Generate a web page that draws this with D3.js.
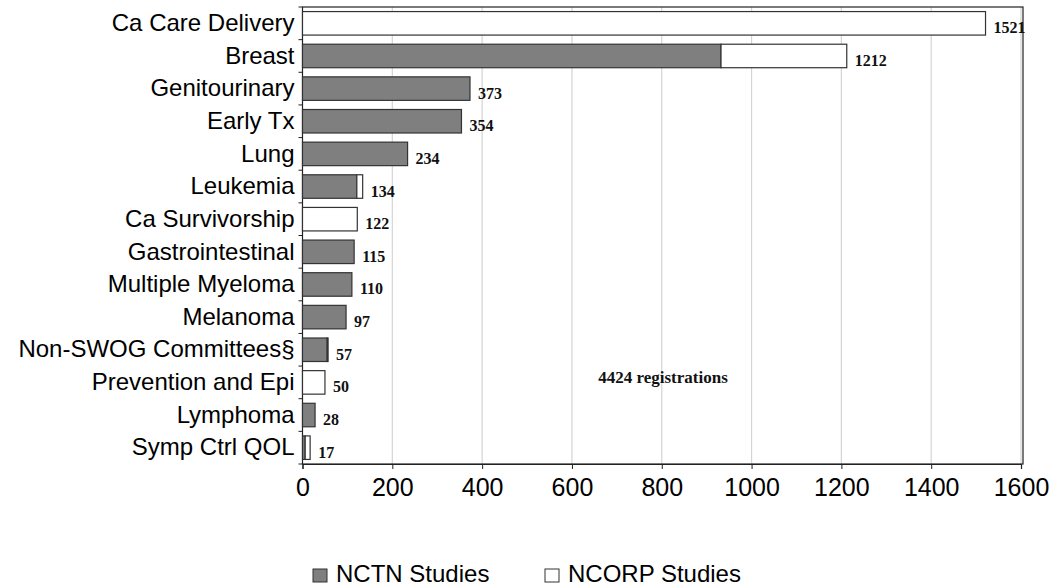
<!DOCTYPE html>
<html><head><meta charset="utf-8">
<script src="https://cdn.jsdelivr.net/npm/d3@7"></script>
<style>body{margin:0;background:#fff}svg{display:block}</style>
</head><body>
<svg id="c" width="1051" height="588"></svg>
<script>
const categories = ["Ca Care Delivery","Breast","Genitourinary","Early Tx","Lung","Leukemia","Ca Survivorship","Gastrointestinal","Multiple Myeloma","Melanoma","Non-SWOG Committees§","Prevention and Epi","Lymphoma","Symp Ctrl QOL"];
const nctn  = [0, 932, 373, 354, 234, 121, 0, 115, 110, 97, 55, 0, 28, 6];
const ncorp = [1521, 280, 0, 0, 0, 13, 122, 0, 0, 0, 2, 50, 0, 11];
const xTicks = [0,200,400,600,800,1000,1200,1400,1600];
const seriesNames = ["NCTN Studies","NCORP Studies"];
const annotation = "4424 registrations";

const svg = d3.select("#c");
const x = d3.scaleLinear().domain([0,1600]).range([302.5,1021]);
const y = d3.scaleBand().domain(categories).range([7,464]).paddingInner(0.28).paddingOuter(0.14);
const sans = "Liberation Sans, Arial, sans-serif";
const serif = "Liberation Serif, Times New Roman, serif";

// gridlines
svg.append("g").selectAll("line").data(xTicks.slice(1)).join("line")
  .attr("x1",d=>x(d)).attr("x2",d=>x(d)).attr("y1",7).attr("y2",464)
  .attr("stroke","#d4d4d4").attr("stroke-width",1.2);

// plot frame
svg.append("rect").attr("x",x(0)).attr("y",7).attr("width",x(1600)-x(0)+2).attr("height",457)
  .attr("fill","none").attr("stroke","#222").attr("stroke-width",1.2);

const rows = categories.map((c,i)=>({c, a:nctn[i], b:ncorp[i]}));
const g = svg.append("g");
g.selectAll("rect.n").data(rows.filter(r=>r.a>0)).join("rect")
  .attr("x",x(0)).attr("y",d=>y(d.c)).attr("width",d=>x(d.a)-x(0)).attr("height",y.bandwidth())
  .attr("fill","#7f7f7f").attr("stroke","#333").attr("stroke-width",1.2);
g.selectAll("rect.p").data(rows.filter(r=>r.b>0)).join("rect")
  .attr("x",d=>x(d.a)).attr("y",d=>y(d.c)).attr("width",d=>x(d.a+d.b)-x(d.a)).attr("height",y.bandwidth())
  .attr("fill","#fff").attr("stroke","#333").attr("stroke-width",1.2);

// value labels
g.selectAll("text.v").data(rows).join("text")
  .attr("x",d=>x(d.a+d.b)+8).attr("y",d=>y(d.c)+y.bandwidth()/2+10)
  .attr("font-family",serif).attr("font-weight","bold")
  .attr("font-size",16).attr("fill","#111").text(d=>d.a+d.b);

// y axis
const ya = svg.append("g").attr("transform",`translate(${x(0)},0)`)
  .call(d3.axisLeft(y).tickSize(0).tickPadding(8));
ya.select(".domain").remove();
ya.selectAll("text").attr("font-family",sans).attr("font-size",24).attr("fill","#000");
// category boundary ticks
svg.append("g").selectAll("line").data(d3.range(categories.length+1)).join("line")
  .attr("x1",x(0)-4).attr("x2",x(0)).attr("y1",i=>7+i*(457/categories.length)).attr("y2",i=>7+i*(457/categories.length))
  .attr("stroke","#222").attr("stroke-width",1);

// x axis
const xa = svg.append("g").attr("transform","translate(0,464)")
  .call(d3.axisBottom(x).tickValues(xTicks).tickFormat(d3.format("d")).tickSize(5).tickPadding(9));
xa.select(".domain").attr("stroke","#222").attr("stroke-width",1.2);
xa.selectAll("line").attr("stroke","#222");
xa.selectAll("text").attr("font-family",sans).attr("font-size",25).attr("fill","#000");

// annotation
svg.append("text").attr("x",663).attr("y",383).attr("text-anchor","middle")
  .attr("font-family",serif).attr("font-weight","bold")
  .attr("font-size",17).attr("fill","#111").text(annotation);

// legend
const leg = svg.append("g");
const lx = [313, 545];
seriesNames.forEach((n,i)=>{
  leg.append("rect").attr("x",lx[i]).attr("y",569).attr("width",14).attr("height",13)
    .attr("fill",i===0?"#7f7f7f":"#fff").attr("stroke","#333").attr("stroke-width",1);
  leg.append("text").attr("x",lx[i]+23).attr("y",582)
    .attr("font-family",sans).attr("font-size",24).attr("fill","#000").text(n);
});
</script>
</body></html>
